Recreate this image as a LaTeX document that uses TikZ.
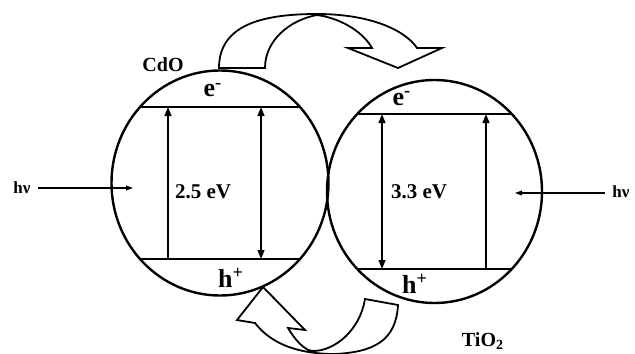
\documentclass[tikz,border=0pt]{standalone}
\usepackage{fontspec}
\setmainfont{Liberation Serif}
\usetikzlibrary{shapes.geometric,arrows.meta}
\begin{document}
\begin{tikzpicture}[x=0.5pt,y=-0.5pt,
  particle/.style={ellipse,draw,line width=1.2pt,inner sep=0pt},
  bandline/.style={line width=1.2pt},
  gaparrow/.style={line width=0.9pt,-{Triangle[length=4.5pt,width=3.4pt]}},
  pairarrow/.style={line width=0.9pt,{Triangle[length=4.5pt,width=3.4pt]}-{Triangle[length=4.5pt,width=3.4pt]}},
  photonarrow/.style={line width=0.6pt,-{Triangle[length=3.5pt,width=2.4pt]}},
  flowarrow/.style={line width=0.9pt,fill=white,line join=miter},
  carrierlbl/.style={font=\fontsize{13}{13}\selectfont\bfseries,inner sep=0pt,anchor=base},
  energylbl/.style={font=\fontsize{10.5}{10.5}\selectfont\bfseries,inner sep=0pt,anchor=base},
  namelbl/.style={font=\fontsize{10}{10}\selectfont\bfseries,inner sep=0pt,anchor=base},
  hvlbl/.style={font=\fontsize{8.5}{8.5}\selectfont\bfseries,inner sep=0pt}
]
\useasboundingbox (0,0) rectangle (635,353);
\clip (0,0) rectangle (635,353);

% the two semiconductor particles
\node[particle,minimum width=108.5pt,minimum height=112.5pt] (cdo) at (220,183) {};
\node[particle,minimum width=107.5pt,minimum height=111.5pt] (tio) at (434.5,191.5) {};

% conduction and valence band edges, cut by each particle outline
\begin{scope}
  \clip (cdo.center) ellipse [x radius=54.25pt,y radius=56.25pt];
  \draw[bandline] (100,107) -- (340,107);
  \draw[bandline] (100,259) -- (340,259);
\end{scope}
\begin{scope}
  \clip (tio.center) ellipse [x radius=53.75pt,y radius=55.75pt];
  \draw[bandline] (320,114) -- (550,114);
  \draw[bandline] (320,269) -- (550,269);
\end{scope}

% band-gap arrows
\coordinate (cVa) at (168,259); \coordinate (cCa) at (168,107);
\coordinate (cVb) at (261,259); \coordinate (cCb) at (261,107);
\coordinate (tVa) at (382,269); \coordinate (tCa) at (382,114);
\coordinate (tVb) at (486,269); \coordinate (tCb) at (486,114);
\draw[gaparrow] (cVa) -- (cCa);
\draw[pairarrow] (cVb) -- (cCb);
\draw[pairarrow] (tVa) -- (tCa);
\draw[gaparrow] (tVb) -- (tCb);

% labels
\node[carrierlbl] (eC) at (213,97) {e\textsuperscript{-}};
\node[carrierlbl] (hC) at (231,287) {h\textsuperscript{+}};
\node[carrierlbl] (eT) at (402,105) {e\textsuperscript{-}};
\node[carrierlbl] (hT) at (415,293) {h\textsuperscript{+}};
\node[energylbl] (gC) at (203,198) {2.5 eV};
\node[energylbl] (gT) at (419,198) {3.3 eV};
\node[namelbl] (nC) at (163,71) {CdO};
\node[namelbl] (nT) at (483,346) {TiO\textsubscript{2}};

% incident light
\node[hvlbl] (hvL) at (22,188) {hν};
\node[hvlbl] (hvR) at (621,192) {hν};
\coordinate (inL) at (133,188);
\coordinate (inR) at (515,193);
\draw[photonarrow] ([xshift=3.5pt]hvL.east |- inL) -- (inL);
\draw[photonarrow] ([xshift=-3.5pt]hvR.west |- inR) -- (inR);

% electron transfer CdO -> TiO2 (top)
\draw[flowarrow] (219,68) .. controls (219,25) and (262,14) .. (317,14)
  .. controls (370,14) and (405,30) .. (417,48)
  -- (442,48) -- (398,68) -- (348,48) -- (372,48)
  .. controls (365,35) and (345,19) .. (317,15)
  .. controls (290,20) and (265,40) .. (265,68) -- cycle;

% hole transfer TiO2 -> CdO (bottom)
\draw[flowarrow] (263,287) -- (305,330) -- (288,328)
  .. controls (295,340) and (305,351) .. (313,351)
  .. controls (335,351) and (360,330) .. (365,299)
  -- (398,305)
  .. controls (396,340) and (375,352) .. (335,354)
  .. controls (300,354) and (272,345) .. (255,323)
  -- (237,320) -- cycle;
\end{tikzpicture}
\end{document}
